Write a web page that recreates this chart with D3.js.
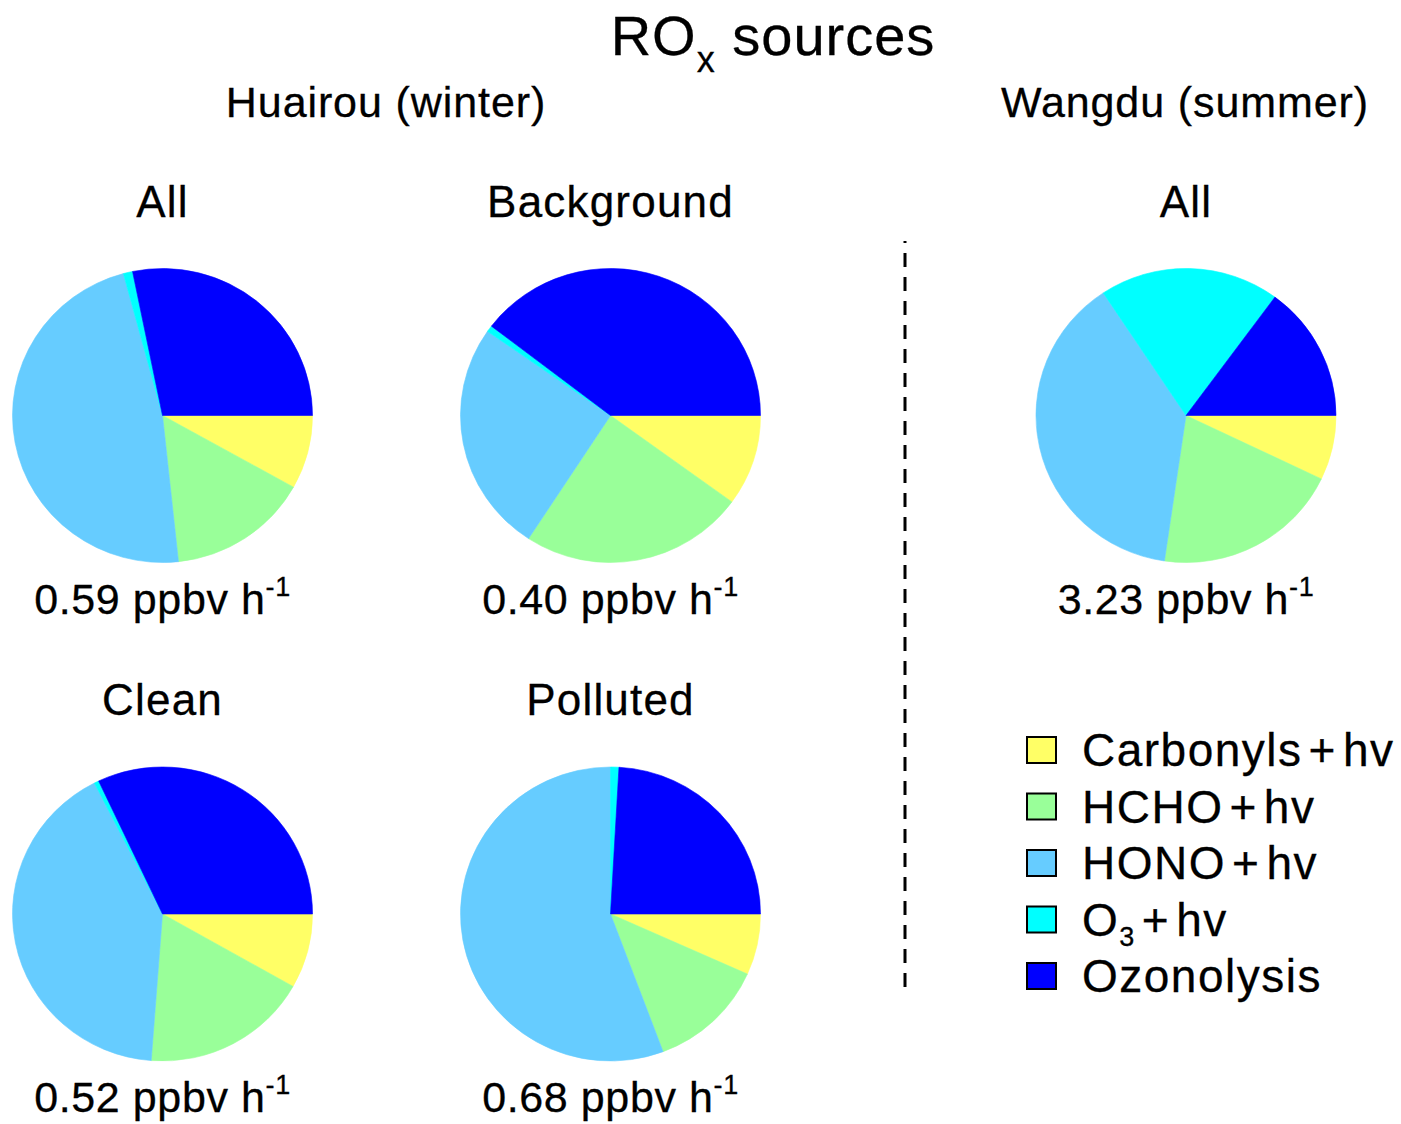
<!DOCTYPE html>
<html>
<head>
<meta charset="utf-8">
<script src="https://cdn.jsdelivr.net/npm/d3@7"></script>
<style>
  html, body { margin: 0; padding: 0; background: #fff; }
  svg { display: block; }
  text { font-family: "Liberation Sans", Arial, Helvetica, sans-serif; fill: #000; stroke: #000; stroke-width: 0.3px; }
</style>
</head>
<body>
<script>
// RO_x radical source contributions (percent of total production rate)
const sources = ["Carbonyls+hv", "HCHO+hv", "HONO+hv", "O3+hv", "Ozonolysis"];
const sourceColors = ["#FFFF66", "#99FF99", "#66CCFF", "#00FFFF", "#0000FF"];

const panelNames = ["All", "Background", "Clean", "Polluted", "All"];
const panelSites = ["Huairou", "Huairou", "Huairou", "Huairou", "Wangdu"];
const totalRates = [0.59, 0.40, 0.52, 0.68, 3.23]; // ppbv h-1

const huairouAll        = [8.1, 15.2, 47.5, 1.0, 28.2];
const huairouBackground = [10.0, 24.2, 25.5, 0.7, 39.6];
const huairouClean      = [8.2, 18.0, 41.3, 0.5, 32.0];
const huairouPolluted   = [6.7, 12.6, 55.7, 0.9, 24.1];
const wangduAll         = [7.1, 20.2, 38.4, 19.4, 14.9];

const panelShares = [huairouAll, huairouBackground, huairouClean, huairouPolluted, wangduAll];

const W = 1401, H = 1124;
const svg = d3.select("body").append("svg").attr("width", W).attr("height", H);

// pie centres for each panel
const centres = [
  [162.5, 415.5], [610.5, 415.5], [162.5, 914], [610.5, 914], [1186, 415.5]
];
const R = 150;

const color = d3.scaleOrdinal().domain(sources).range(sourceColors);

const pie = d3.pie()
  .sort(null)
  .value(d => d.v)
  .startAngle(Math.PI / 2)
  .endAngle(Math.PI / 2 + 2 * Math.PI);

const arc = d3.arc().innerRadius(0).outerRadius(R);

// Title
const title = svg.append("text")
  .attr("x", 773).attr("y", 55)
  .attr("text-anchor", "middle")
  .style("font-size", "56px")
  .style("letter-spacing", "1px");
title.append("tspan").text("RO");
title.append("tspan").attr("dy", 17).style("font-size", "36px").text("x");
title.append("tspan").attr("dy", -17).text(" sources");

// Site headings
svg.append("text").attr("x", 386).attr("y", 117).attr("text-anchor", "middle")
  .style("font-size", "43px").style("letter-spacing", "0.9px").text("Huairou (winter)");
svg.append("text").attr("x", 1185).attr("y", 117).attr("text-anchor", "middle")
  .style("font-size", "43px").style("letter-spacing", "0.9px").text("Wangdu (summer)");

panelShares.forEach((shares, i) => {
  const [cx, cy] = centres[i];
  const g = svg.append("g").attr("transform", `translate(${cx},${cy}) scale(1,0.98)`);
  const data = sources.map((s, k) => ({ key: s, v: shares[k] }));
  g.selectAll("path")
    .data(pie(data))
    .join("path")
    .attr("d", arc)
    .attr("fill", d => color(d.data.key))
    .attr("stroke", d => color(d.data.key))
    .attr("stroke-width", 0.6);

  svg.append("text")
    .attr("x", cx).attr("y", cy - 199)
    .attr("text-anchor", "middle")
    .style("font-size", "44px")
    .style("letter-spacing", "1.2px")
    .text(panelNames[i]);

  const lab = svg.append("text")
    .attr("x", cx).attr("y", cy + 198)
    .attr("text-anchor", "middle")
    .style("font-size", "43px")
    .style("letter-spacing", "0.6px");
  lab.append("tspan").text(`${d3.format(".2f")(totalRates[i])} ppbv h`);
  lab.append("tspan").attr("dy", -18).style("font-size", "27px").text("-1");
});

// Divider between the two sites
svg.append("line")
  .attr("x1", 905).attr("x2", 905)
  .attr("y1", 241).attr("y2", 990)
  .attr("stroke", "#000")
  .attr("stroke-width", 3)
  .attr("stroke-dasharray", "14,10")
  .attr("stroke-dashoffset", 12);

// Legend
const legend = svg.append("g").attr("transform", "translate(1027,750)");
const rowH = 56.5;
const items = legend.selectAll("g").data(sources).join("g")
  .attr("transform", (d, i) => `translate(0,${i * rowH})`);
items.append("rect")
  .attr("x", 0).attr("y", -13).attr("width", 29).attr("height", 26)
  .attr("fill", d => color(d))
  .attr("stroke", "#000").attr("stroke-width", 2);
items.each(function(d) {
  const t = d3.select(this).append("text")
    .attr("x", 55).attr("y", 16)
    .style("font-size", "46px")
    .style("letter-spacing", "1.5px");
  const parts = d.split("+");
  let shift = 0;
  if (parts[0] === "O3") {
    // chemical formula with subscripted 3
    t.append("tspan").text("O");
    t.append("tspan").attr("dy", 10).style("font-size", "27px").text("3");
    shift = -10;
  } else {
    t.append("tspan").text(parts[0]);
  }
  if (parts.length > 1) {
    t.append("tspan").attr("dx", 6).attr("dy", shift).text("+");
    t.append("tspan").attr("dx", 6).text(parts[1]);
  }
});
</script>
</body>
</html>
